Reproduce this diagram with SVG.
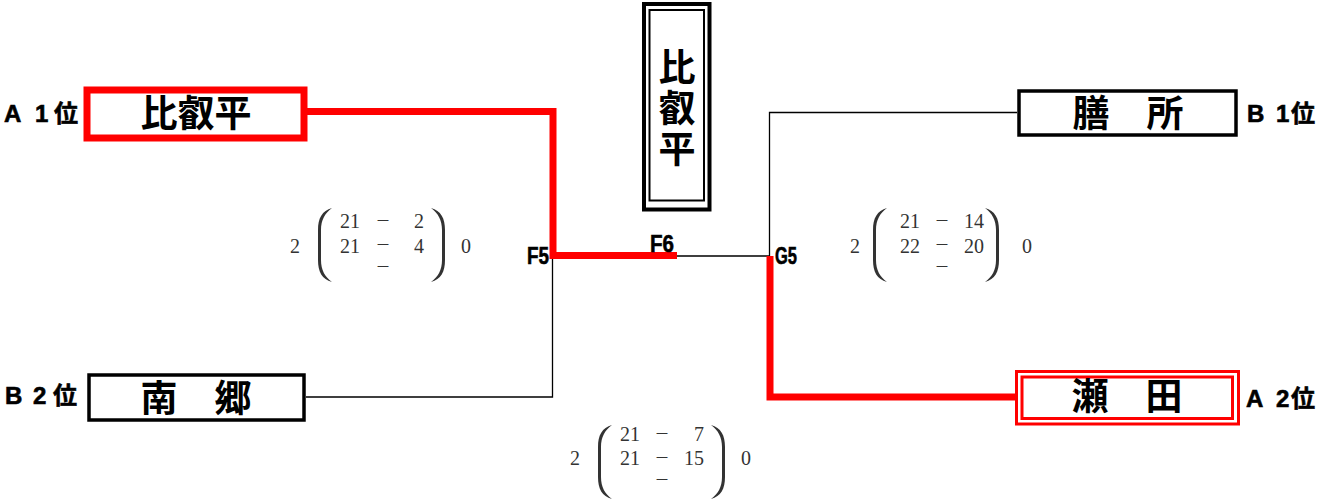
<svg xmlns="http://www.w3.org/2000/svg" width="1327" height="501" viewBox="0 0 1327 501">
<style>
.name{font-family:"Noto Sans CJK JP","Noto Sans CJK SC",sans-serif;font-weight:bold;font-size:37px;fill:#000;text-anchor:middle}
.rank{font-family:"Liberation Sans","Noto Sans CJK JP",sans-serif;font-weight:bold;font-size:24px;fill:#000;stroke:#000;stroke-width:0.6}
.code{font-family:"Liberation Sans",sans-serif;font-weight:bold;font-size:24px;fill:#000;stroke:#000;stroke-width:0.6}
.sc{font-family:"Liberation Serif","Noto Sans CJK JP",serif;font-size:20px;fill:#333}
.dash{font-family:"Noto Sans CJK JP",sans-serif;font-size:15px;fill:#333;text-anchor:middle}
.r{text-anchor:end}
.box{fill:#fff;stroke:#000;stroke-width:3.5}
.rbox{fill:#fff;stroke:#f00}
.thin{fill:none;stroke:#000;stroke-width:1.3}
.red{fill:none;stroke:#f00;stroke-width:7;stroke-linejoin:miter}
.par{fill:#333}
</style>
<defs>
<path id="paren" d="M14,0 C4,3 0,10 0,22 L0,52 C0,64 4,71 14,74 C7,69 3,62 3,52 L3,22 C3,12 7,5 14,0 Z"/>
</defs>
<g id="connectors">
<path class="thin" d="M306,397 H552.5 V256"/>
<path class="thin" d="M677,256 H769.5 V112.5 H1017"/>
<path class="red" d="M306,111.5 H553 V255.5 H677"/>
<path class="red" d="M770,256 V397 H1016"/>
</g>
<g id="node-hieidaira">
<rect class="rbox" x="87" y="90" width="217" height="48" stroke-width="7"/>
<text class="name" x="196" y="127">比叡平</text>
<text class="rank" x="4 35 54" y="122">A1位</text>
</g>
<g id="node-nango">
<rect class="box" x="89" y="375" width="215" height="45"/>
<text class="name" x="196" y="412">南　郷</text>
<text class="rank" x="5 33 53" y="404">B2位</text>
</g>
<g id="node-zeze">
<rect class="box" x="1019" y="91" width="217" height="44"/>
<text class="name" x="1128" y="127">膳　所</text>
<text class="rank" x="1247 1276 1291" y="122">B1位</text>
</g>
<g id="node-seta">
<rect class="rbox" x="1016.5" y="371.5" width="222" height="52.5" stroke-width="3"/>
<rect class="rbox" x="1022" y="377" width="210.5" height="41.5" stroke-width="3"/>
<text class="name" x="1127" y="410">瀬　田</text>
<text class="rank" x="1246 1276 1291" y="407">A2位</text>
</g>
<g id="node-winner">
<rect x="644" y="4" width="65.5" height="205.5" fill="#fff" stroke="#000" stroke-width="4"/>
<rect x="649.5" y="10" width="54.5" height="190.5" fill="none" stroke="#000" stroke-width="2"/>
<text x="677" y="48" writing-mode="vertical-rl" letter-spacing="4" style="font-family:'Noto Sans CJK JP','Noto Sans CJK SC',sans-serif;font-weight:bold;font-size:37px;fill:#000">比叡平</text>
</g>
<g id="labels">
<text class="code" x="527" y="264" textLength="22" lengthAdjust="spacingAndGlyphs">F5</text>
<text class="code" x="650" y="252" textLength="24" lengthAdjust="spacingAndGlyphs">F6</text>
<text class="code" x="775" y="264" textLength="22" lengthAdjust="spacingAndGlyphs">G5</text>
</g>
<g id="score-f5">
<text class="sc" x="290" y="253">2</text>
<use href="#paren" class="par" transform="translate(318,208)"/>
<use href="#paren" class="par" transform="translate(445,208) scale(-1,1)"/>
<text class="sc" x="340" y="228">21</text>
<text class="sc" x="340" y="253">21</text>
<text class="dash" x="383" y="226">－</text>
<text class="dash" x="383" y="250">－</text>
<text class="dash" x="383" y="272">－</text>
<text class="sc r" x="424" y="228">2</text>
<text class="sc r" x="424" y="253">4</text>
<text class="sc" x="461" y="253">0</text>
</g>
<g id="score-g5">
<text class="sc" x="850" y="253">2</text>
<use href="#paren" class="par" transform="translate(873,208)"/>
<use href="#paren" class="par" transform="translate(999,208) scale(-1,1)"/>
<text class="sc" x="900" y="228">21</text>
<text class="sc" x="900" y="253">22</text>
<text class="dash" x="942" y="226">－</text>
<text class="dash" x="942" y="250">－</text>
<text class="dash" x="942" y="272">－</text>
<text class="sc r" x="984" y="228">14</text>
<text class="sc r" x="984" y="253">20</text>
<text class="sc" x="1022" y="253">0</text>
</g>
<g id="score-f6">
<text class="sc" x="570" y="465">2</text>
<use href="#paren" class="par" transform="translate(598,425)"/>
<use href="#paren" class="par" transform="translate(725,425) scale(-1,1)"/>
<text class="sc" x="620" y="441">21</text>
<text class="sc" x="620" y="465">21</text>
<text class="dash" x="662" y="439">－</text>
<text class="dash" x="662" y="463">－</text>
<text class="dash" x="662" y="485">－</text>
<text class="sc r" x="704" y="441">7</text>
<text class="sc r" x="704" y="465">15</text>
<text class="sc" x="741" y="465">0</text>
</g>
</svg>
